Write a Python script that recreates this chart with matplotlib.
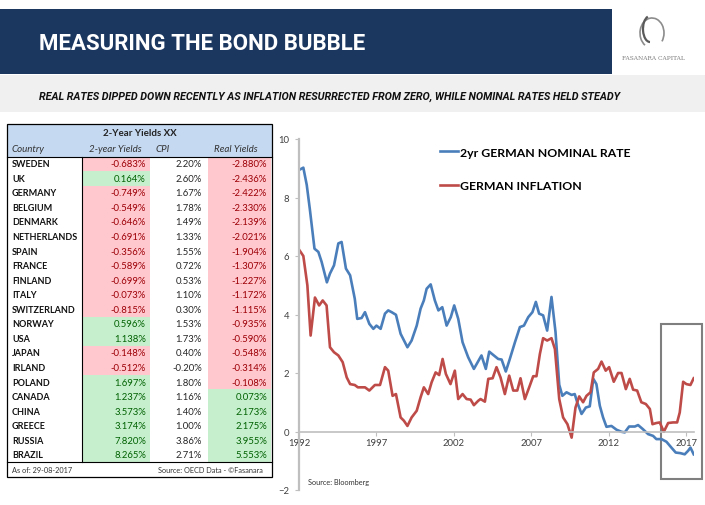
import matplotlib
matplotlib.use('Agg')
import matplotlib.pyplot as plt
from matplotlib.patches import Rectangle, Arc

plt.rcParams['font.family'] = ['Lato', 'DejaVu Sans']

# Tabela: rendimentos de 2 anos, CPI e rendimentos reais
paises = ['SWEDEN', 'UK', 'GERMANY', 'BELGIUM', 'DENMARK', 'NETHERLANDS', 'SPAIN', 'FRANCE',
          'FINLAND', 'ITALY', 'SWITZERLAND', 'NORWAY', 'USA', 'JAPAN', 'IRLAND', 'POLAND',
          'CANADA', 'CHINA', 'GREECE', 'RUSSIA', 'BRAZIL']
yields_2a = [-0.683, 0.164, -0.749, -0.549, -0.646, -0.691, -0.356, -0.589, -0.699, -0.073,
             -0.815, 0.596, 1.138, -0.148, -0.512, 1.697, 1.237, 3.573, 3.174, 7.820, 8.265]
cpi = [2.20, 2.60, 1.67, 1.78, 1.49, 1.33, 1.55, 0.72, 0.53, 1.10, 0.30, 1.53, 1.73, 0.40,
       -0.20, 1.80, 1.16, 1.40, 1.00, 3.86, 2.71]
real_yields = [-2.880, -2.436, -2.422, -2.330, -2.139, -2.021, -1.904, -1.307, -1.227, -1.172,
               -1.115, -0.935, -0.590, -0.548, -0.314, -0.108, 0.073, 2.173, 2.175, 3.955, 5.553]

# Grafico: taxa nominal 2 anos alema e inflacao alema
anos_nominal = [1992.0, 1992.28, 1992.5, 1992.7, 1993.0, 1993.25, 1993.46, 1993.8, 1994.0, 1994.26,
                1994.54, 1994.75, 1995.03, 1995.3, 1995.6, 1995.76, 1996.04, 1996.26, 1996.54, 1996.8,
                1997.0, 1997.27, 1997.55, 1997.76, 1997.98, 1998.26, 1998.56, 1999.0, 1999.27, 1999.6,
                1999.85, 2000.06, 2000.24, 2000.5, 2000.77, 2001.0, 2001.25, 2001.53, 2001.8, 2002.02,
                2002.28, 2002.56, 2002.92, 2003.29, 2003.78, 2004.06, 2004.28, 2004.58, 2004.86, 2005.08,
                2005.35, 2005.61, 2005.94, 2006.26, 2006.52, 2006.8, 2007.07, 2007.29, 2007.5, 2007.76,
                2008.02, 2008.3, 2008.56, 2008.8, 2009.0, 2009.27, 2009.6, 2009.8, 2009.96, 2010.24,
                2010.52, 2010.77, 2011.0, 2011.2, 2011.42, 2011.63, 2011.85, 2012.17, 2012.5, 2012.82,
                2013.03, 2013.31, 2013.68, 2013.89, 2014.2, 2014.54, 2014.86, 2015.07, 2015.4, 2015.72,
                2016.04, 2016.32, 2016.62, 2016.9, 2017.12, 2017.27, 2017.48]
taxa_nominal = [8.94, 9.02, 8.43, 7.6, 6.25, 6.14, 5.8, 5.1, 5.4, 5.68,
                6.43, 6.48, 5.57, 5.34, 4.54, 3.85, 3.88, 4.08, 3.68, 3.51,
                3.62, 3.51, 4.03, 4.14, 4.08, 3.99, 3.34, 2.88, 3.11, 3.62,
                4.2, 4.48, 4.88, 5.03, 4.48, 4.14, 4.25, 3.62, 3.91, 4.31,
                3.85, 3.05, 2.54, 2.14, 2.6, 2.14, 2.73, 2.6, 2.48, 2.46,
                2.05, 2.48, 3.05, 3.57, 3.62, 3.91, 4.08, 4.43, 4.03, 3.97,
                3.45, 4.6, 3.4, 1.6, 1.22, 1.34, 1.25, 1.28, 1.0, 0.6,
                0.82, 0.86, 1.8, 1.62, 0.88, 0.48, 0.16, 0.19, 0.06, -0.01,
                -0.03, 0.17, 0.17, 0.22, 0.08, -0.09, -0.15, -0.26, -0.26, -0.35,
                -0.55, -0.72, -0.74, -0.78, -0.66, -0.55, -0.78]

anos_inflacao = [1992.0, 1992.28, 1992.54, 1992.75, 1993.03, 1993.3, 1993.53, 1993.78, 1994.0, 1994.26,
                 1994.54, 1994.82, 1995.08, 1995.3, 1995.6, 1995.8, 1996.26, 1996.54, 1996.9, 1997.23,
                 1997.55, 1997.76, 1998.04, 1998.26, 1998.56, 1998.77, 1999.0, 1999.27, 1999.6, 1999.85,
                 2000.06, 2000.34, 2000.56, 2000.82, 2001.05, 2001.27, 2001.48, 2001.78, 2002.06, 2002.28,
                 2002.56, 2002.82, 2003.08, 2003.29, 2003.57, 2003.72, 2004.0, 2004.22, 2004.5, 2004.75,
                 2005.01, 2005.29, 2005.57, 2005.83, 2006.09, 2006.3, 2006.58, 2006.86, 2007.12, 2007.33,
                 2007.55, 2007.76, 2008.02, 2008.3, 2008.52, 2008.8, 2009.05, 2009.33, 2009.6, 2009.85,
                 2010.09, 2010.34, 2010.56, 2010.82, 2011.03, 2011.31, 2011.53, 2011.8, 2012.02, 2012.32,
                 2012.6, 2012.82, 2013.1, 2013.35, 2013.57, 2013.83, 2014.1, 2014.39, 2014.65, 2014.82,
                 2015.07, 2015.29, 2015.55, 2015.83, 2016.15, 2016.41, 2016.58, 2016.8, 2017.01, 2017.27,
                 2017.48]
inflacao = [6.22, 6.0, 5.0, 3.28, 4.58, 4.31, 4.48, 4.31, 2.88, 2.71,
            2.6, 2.37, 1.85, 1.62, 1.59, 1.51, 1.51, 1.4, 1.59, 1.59,
            2.2, 2.08, 1.22, 1.28, 0.48, 0.37, 0.19, 0.48, 0.71, 1.17,
            1.51, 1.28, 1.68, 2.02, 1.93, 2.48, 1.97, 1.62, 2.08, 1.11,
            1.28, 1.11, 1.09, 0.9, 1.05, 1.11, 1.02, 1.8, 1.82, 2.2,
            1.85, 1.28, 1.91, 1.4, 1.4, 1.82, 1.11, 1.51, 1.89, 1.89,
            2.65, 3.19, 3.11, 3.19, 2.82, 1.11, 0.48, 0.25, -0.21, 0.82,
            1.2, 1.0, 1.22, 1.34, 2.02, 2.14, 2.39, 2.08, 2.2, 1.7,
            2.0, 2.0, 1.45, 1.8, 1.43, 1.4, 1.0, 0.94, 0.77, 0.25,
            0.29, 0.31, -0.01, 0.29, 0.31, 0.31, 0.65, 1.7, 1.62, 1.59,
            1.82]

W, H = 705, 506
fig = plt.figure(figsize=(W / 100, H / 100), dpi=100)
fig.patch.set_facecolor('white')
renderer = fig.canvas.get_renderer()


def ajustar_largura(t, largura_px):
    # reduz/aumenta a fonte para o texto ocupar a largura desejada
    bb = t.get_window_extent(renderer=renderer)
    t.set_fontsize(t.get_fontsize() * largura_px / bb.width)


# Eixo "tela" em pixels para cabecalho e tabela
tela = fig.add_axes([0, 0, 1, 1])
tela.set_xlim(0, W)
tela.set_ylim(H, 0)
tela.axis('off')

# Cabecalho
tela.add_patch(Rectangle((0, 9.5), 612, 65.5, facecolor='#1B365F', edgecolor='none'))
titulo = tela.text(39, 43.5, 'MEASURING THE BOND BUBBLE', color='white', fontsize=20, fontweight='bold',
                   family=['Roboto', 'DejaVu Sans'], va='center', ha='left')
ajustar_largura(titulo, 326)
tela.add_patch(Rectangle((0, 76), W, 37, facecolor='#F0F0F0', edgecolor='none'))
sub = tela.text(39, 96.5, 'REAL RATES DIPPED DOWN RECENTLY AS INFLATION RESURRECTED FROM ZERO, WHILE NOMINAL RATES HELD STEADY',
                color='#111111', fontsize=9, fontweight='bold', fontstyle='italic',
                family=['Roboto', 'DejaVu Sans'], va='center', ha='left')
ajustar_largura(sub, 584)
# Logo simplificado
tela.add_patch(Arc((652, 34), 24, 30, theta1=120, theta2=400, color='#8C8C8C', lw=1.2))
tela.add_patch(Arc((650, 30), 14, 26, theta1=90, theta2=260, color='#5A5A5A', lw=1.6))
tela.text(653, 58, 'FASANARA CAPITAL', color='#7F7F7F', fontsize=4.2, family='DejaVu Serif',
          ha='center', va='center')

# Tabela
tx0, tx1 = 7, 272
ty0, ty1 = 125, 478
topo_dados = 157.5
altura_linha = 14.55
fim_dados = topo_dados + altura_linha * len(paises)

tela.add_patch(Rectangle((tx0, ty0), tx1 - tx0, topo_dados - ty0, facecolor='#C5D9F1', edgecolor='none'))
tela.text(140, 133.5, '2-Year Yields XX', fontsize=7, fontweight='bold', ha='center', va='center', color='#222222')
cab_kw = dict(fontsize=7, fontstyle='italic', va='center', color='#333333')
tela.text(12, 149.5, 'Country', ha='left', **cab_kw)
tela.text(115, 149.5, '2-year Yields', ha='center', **cab_kw)
tela.text(156, 149.5, 'CPI', ha='left', **cab_kw)
tela.text(236, 149.5, 'Real Yields', ha='center', **cab_kw)

verm_bg, verm_txt = '#FFC7CE', '#9C0006'
verde_bg, verde_txt = '#C6EFCE', '#006100'

for i, pais in enumerate(paises):
    y_top = topo_dados + i * altura_linha
    yc = y_top + altura_linha / 2
    y2 = yields_2a[i]
    ry = real_yields[i]
    tela.add_patch(Rectangle((82, y_top), 68, altura_linha,
                             facecolor=verde_bg if y2 > 0 else verm_bg, edgecolor='none'))
    tela.add_patch(Rectangle((208, y_top), 63, altura_linha,
                             facecolor=verde_bg if ry > 0 else verm_bg, edgecolor='none'))
    tela.text(12, yc, pais, fontsize=6.5, fontweight='bold', ha='left', va='center', color='#111111')
    tela.text(146, yc, f'{y2:.3f}%', fontsize=6.8, ha='right', va='center',
              color=verde_txt if y2 > 0 else verm_txt)
    tela.text(202, yc, f'{cpi[i]:.2f}%', fontsize=6.8, ha='right', va='center', color='#262626')
    tela.text(267, yc, f'{ry:.3f}%', fontsize=6.8, ha='right', va='center',
              color=verde_txt if ry > 0 else verm_txt)

tela.plot([tx0, tx1], [topo_dados, topo_dados], color='black', lw=0.8)
tela.plot([82, 82], [topo_dados, fim_dados], color='black', lw=0.8)
tela.plot([tx0, tx1], [fim_dados, fim_dados], color='black', lw=0.8)
tela.add_patch(Rectangle((tx0, ty0), tx1 - tx0, ty1 - ty0, facecolor='none', edgecolor='black', lw=0.9))
tela.text(12, 471, 'As of: 29-08-2017', fontsize=5.3, ha='left', va='center', color='#333333')
tela.text(263, 471, 'Source: OECD Data - \u00a9Fasanara', fontsize=5.3, ha='right', va='center', color='#333333')

# Grafico de linhas
ax = fig.add_axes([299 / W, 1 - 491 / H, (694 - 299) / W, (491 - 140) / H])
ax.patch.set_alpha(0)
ax.plot(anos_nominal, taxa_nominal, color='#4A7EBB', lw=1.9, label='2yr GERMAN NOMINAL RATE')
ax.plot(anos_inflacao, inflacao, color='#BE4B48', lw=1.9, label='GERMAN INFLATION')
ax.set_xlim(1992, 2017.5)
ax.set_ylim(-2, 10)
ax.set_yticks([-2, 0, 2, 4, 6, 8, 10])
ax.set_xticks([1992, 1997, 2002, 2007, 2012, 2017])
for lado in ['top', 'right']:
    ax.spines[lado].set_visible(False)
ax.spines['left'].set_color('#BFBFBF')
ax.spines['left'].set_linewidth(1.6)
ax.spines['bottom'].set_position(('data', 0))
ax.spines['bottom'].set_color('#BFBFBF')
ax.spines['bottom'].set_linewidth(1.2)
ax.tick_params(axis='y', length=3, width=0.8, color='#BFBFBF', labelsize=6.8, labelcolor='#404040', pad=4)
ax.tick_params(axis='x', length=3, width=0.8, color='#BFBFBF', labelsize=6.8, labelcolor='#404040', pad=2)

ax.legend(loc='upper left', bbox_to_anchor=(440 / W, 1 - 147.5 / H), bbox_transform=fig.transFigure,
          frameon=False, handlelength=1.45, handletextpad=0.15, labelspacing=1.85, borderpad=0,
          borderaxespad=0, prop={'weight': 'bold', 'size': 8.8})

fig.text(308 / W, 1 - 483 / H, 'Source: Bloomberg', fontsize=5.3, color='#333333', va='center')
tela.add_patch(Rectangle((661, 325), 41, 155, facecolor='none', edgecolor='#7F7F7F', lw=1.5))

fig.savefig('out.png', dpi=100)
